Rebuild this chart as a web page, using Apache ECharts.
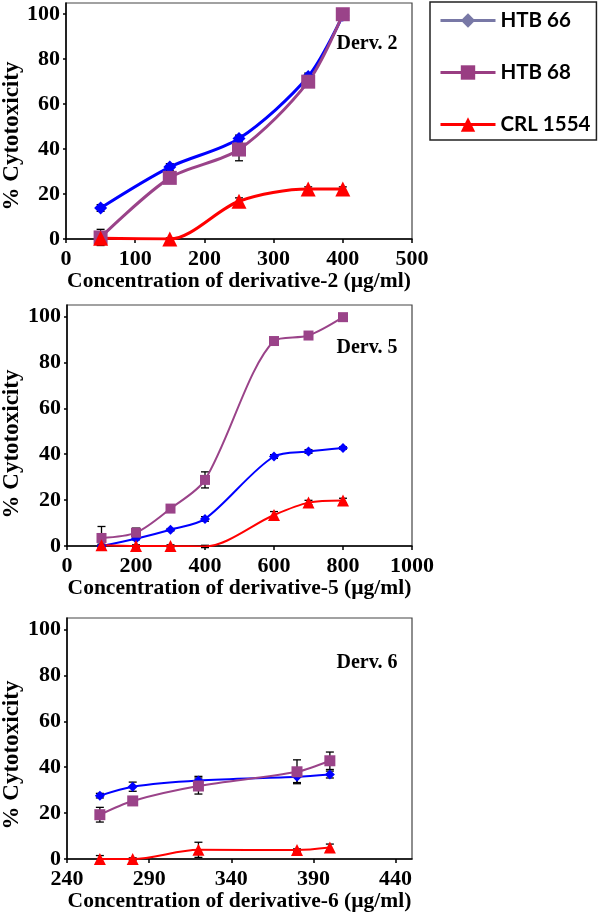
<!DOCTYPE html>
<html>
<head>
<meta charset="utf-8">
<script src="https://cdn.jsdelivr.net/npm/echarts@6/dist/echarts.min.js"></script>
<style>
html,body{margin:0;padding:0;background:#fff;}
#chart{width:600px;height:917px;}
</style>
</head>
<body>
<div id="chart"></div>
<script>
// ---- Data ----
const seriesNames = ['HTB 66', 'HTB 68', 'CRL 1554'];

// Derivative 2
const d2X = [50, 150, 250, 350, 400];
const d2HTB66 = [13.8, 32, 44.7, 72.3, 99.5];
const d2HTB66Err = [1.5, 1.5, 1.5, 1.5, 1];
const d2HTB68 = [0.7, 27.2, 39.8, 70, 100];
const d2HTB68Err = [3.6, 1.5, 5, 1.5, 0.5];
const d2CRL = [0.3, 0, 16.8, 22.2, 22.2];
const d2CRLErr = [0.5, 0.5, 1.5, 1, 1];

// Derivative 5
const d5X = [100, 200, 300, 400, 600, 700, 800];
const d5HTB66 = [0, 3.2, 7.1, 11.8, 39, 41.2, 42.7];
const d5HTB66Err = [0.5, 0.5, 0.5, 1, 0.8, 0.8, 0.5];
const d5HTB68 = [3.5, 5.8, 16.3, 28.8, 89.3, 91.7, 99.7];
const d5HTB68Err = [5, 2, 0.8, 3.5, 1, 1, 0.5];
const d5CRL = [0.3, 0, 0, -0.2, 13.5, 18.9, 19.8];
const d5CRLErr = [0.5, 0.5, 0.5, 0.5, 1.5, 1, 1];

// Derivative 6
const d6X = [260, 280, 320, 380, 400];
const d6HTB66 = [27.6, 31.5, 34.2, 35.8, 36.8];
const d6HTB66Err = [1, 2, 1.8, 2.5, 1.5];
const d6HTB68 = [19.3, 25.3, 31.8, 38, 42.8];
const d6HTB68Err = [3.2, 1.5, 3.5, 5.2, 3.8];
const d6CRL = [0, 0, 4, 3.9, 5];
const d6CRLErr = [1.5, 0.5, 3.3, 0.5, 1.5];

// Axis ticks
const yTicks = [0, 20, 40, 60, 80, 100];
const x2Ticks = [0, 100, 200, 300, 400, 500];
const x5Ticks = [0, 200, 400, 600, 800, 1000];
const x6Ticks = [240, 290, 340, 390, 440];

const xTitles = [
  'Concentration of derivative-2 (\u00b5g/ml)',
  'Concentration of derivative-5 (\u00b5g/ml)',
  'Concentration of derivative-6 (\u00b5g/ml)'
];
const yTitle = '% Cytotoxicity';
const panelLabels = ['Derv. 2', 'Derv. 5', 'Derv. 6'];

// ---- Styling ----
const SERIF = '"Liberation Serif", "Times New Roman", serif';
const C66 = '#0000ff', C68 = '#9a4389', CCRL = '#ff0000';

const panels = [
  {x: d2X, s: [[d2HTB66, d2HTB66Err], [d2HTB68, d2HTB68Err], [d2CRL, d2CRLErr]],
   xt: x2Ticks, min: 0, max: 500, lw: 3, sym: [13, 14, 15]},
  {x: d5X, s: [[d5HTB66, d5HTB66Err], [d5HTB68, d5HTB68Err], [d5CRL, d5CRLErr]],
   xt: x5Ticks, min: 0, max: 1000, lw: 2, sym: [10, 10, 12]},
  {x: d6X, s: [[d6HTB66, d6HTB66Err], [d6HTB68, d6HTB68Err], [d6CRL, d6CRLErr]],
   xt: x6Ticks, min: 240, max: 450, lw: 2, sym: [10, 11, 12]}
];
const grids = [
  {left: 66, top: 3, width: 346, height: 236},
  {left: 67, top: 305, width: 345, height: 241},
  {left: 67, top: 618, width: 345, height: 241}
];
const colors = [C66, C68, CCRL];
const symbols = ['diamond', 'rect', 'triangle'];
const plain = v => String(v);

const option = {
  animation: false,
  grid: grids.map(g => Object.assign({show: true, borderColor: '#444', borderWidth: 1.2, backgroundColor: 'transparent'}, g)),
  xAxis: panels.map((p, i) => ({
    type: 'value', gridIndex: i, min: p.min, max: p.max,
    name: xTitles[i], nameLocation: 'middle', nameGap: 31,
    nameTextStyle: {fontFamily: SERIF, fontWeight: 'bold', fontSize: 21.5, color: '#000'},
    axisLine: {show: true, onZero: false, lineStyle: {color: '#000', width: 1.5}},
    axisTick: {show: true, length: 4, customValues: p.xt, lineStyle: {color: '#000', width: 1.5}},
    axisLabel: {customValues: p.xt, formatter: plain, margin: 9, fontFamily: SERIF, fontWeight: 'bold', fontSize: 22, color: '#000'},
    splitLine: {show: false}
  })),
  yAxis: panels.map((p, i) => ({
    type: 'value', gridIndex: i, min: 0, max: 105,
    axisLine: {show: true, onZero: false, lineStyle: {color: '#000', width: 1.5}},
    axisTick: {show: true, length: 3, customValues: yTicks, lineStyle: {color: '#000', width: 1.5}},
    axisLabel: {customValues: yTicks, formatter: plain, margin: 6, fontFamily: SERIF, fontWeight: 'bold', fontSize: 22, color: '#000'},
    splitLine: {show: false}
  })),
  legend: {
    orient: 'vertical', left: 430, top: 2,
    itemWidth: 55, itemHeight: 18, itemGap: 31,
    padding: [8, 6, 5, 9],
    borderColor: '#222', borderWidth: 1.5,
    textStyle: {fontFamily: 'Lato, "Liberation Sans", sans-serif', fontWeight: 'bold', fontSize: 20.5, color: '#000'},
    data: [
      {name: 'HTB 66', itemStyle: {color: '#7878a6'}, lineStyle: {color: '#7878a6', width: 3}},
      {name: 'HTB 68', itemStyle: {color: '#993d82'}, lineStyle: {color: '#993d82', width: 3}},
      {name: 'CRL 1554', itemStyle: {color: '#ff0000'}, lineStyle: {color: '#ff0000', width: 3}}
    ]
  },
  graphic: [],
  series: []
};

panels.forEach((p, i) => {
  p.s.forEach((pair, k) => {
    const vals = pair[0], errs = pair[1];
    option.series.push({
      type: 'custom', name: seriesNames[k] + ' err', xAxisIndex: i, yAxisIndex: i, z: 1,
      silent: true, clip: false,
      encode: {x: 0, y: 1},
      data: p.x.map((x, j) => [x, vals[j], errs[j]]),
      renderItem: function (params, api) {
        const x = api.value(0), y = api.value(1), e = api.value(2);
        const top = api.coord([x, y + e]);
        const bot = api.coord([x, y - e]);
        const hw = 4;
        const st = {stroke: '#000', lineWidth: 1.3};
        return {type: 'group', children: [
          {type: 'line', shape: {x1: top[0], y1: top[1], x2: bot[0], y2: bot[1]}, style: st},
          {type: 'line', shape: {x1: top[0] - hw, y1: top[1], x2: top[0] + hw, y2: top[1]}, style: st},
          {type: 'line', shape: {x1: bot[0] - hw, y1: bot[1], x2: bot[0] + hw, y2: bot[1]}, style: st}
        ]};
      }
    });
    option.series.push({
      type: 'line', name: seriesNames[k], xAxisIndex: i, yAxisIndex: i, z: 3,
      smooth: 0.3,
      symbol: symbols[k], symbolSize: p.sym[k], showAllSymbol: true,
      lineStyle: {color: colors[k], width: p.lw},
      itemStyle: {color: colors[k]},
      data: p.x.map((x, j) => [x, vals[j]])
    });
  });
});

const yCenters = [136, 444, 755];
const dervY = [44, 348, 663];
yCenters.forEach((yc, i) => {
  option.graphic.push({
    type: 'text', x: 12, y: yc, rotation: Math.PI / 2,
    style: {text: yTitle, font: 'bold 23px ' + SERIF, fill: '#000', align: 'center', verticalAlign: 'middle'}
  });
  option.graphic.push({
    type: 'text', x: 367, y: dervY[i],
    style: {text: panelLabels[i], font: 'bold 20px ' + SERIF, fill: '#000', align: 'center', verticalAlign: 'middle'}
  });
});

const chart = echarts.init(document.getElementById('chart'));
chart.setOption(option);
</script>
</body>
</html>
